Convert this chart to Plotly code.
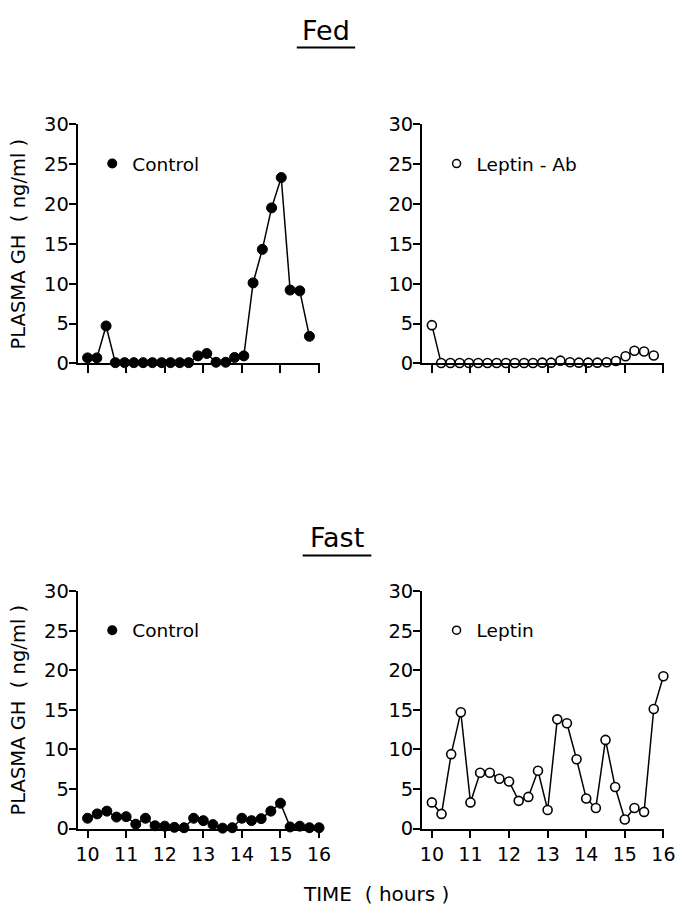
import plotly.graph_objects as go

# Sampling times (hours)
t_fed = [10.0, 10.24, 10.48, 10.72, 10.96, 11.2, 11.44, 11.68, 11.92, 12.15,
         12.39, 12.62, 12.86, 13.09, 13.33, 13.58, 13.81, 14.05, 14.29, 14.53,
         14.77, 15.02, 15.25, 15.5, 15.75]
t_fast = [10.0, 10.25, 10.5, 10.75, 11.0, 11.25, 11.5, 11.75, 12.0, 12.25,
          12.5, 12.75, 13.0, 13.25, 13.5, 13.75, 14.0, 14.25, 14.5, 14.75,
          15.0, 15.25, 15.5, 15.75, 16.0]

# Plasma GH (ng/ml)
gh_fed_control = [0.7, 0.7, 4.7, 0.1, 0.1, 0.1, 0.1, 0.1, 0.1, 0.1,
                  0.1, 0.1, 0.95, 1.25, 0.15, 0.15, 0.75, 0.95, 10.1, 14.3,
                  19.5, 23.3, 9.2, 9.1, 3.4]
gh_fed_leptin_ab = [4.8, 0.05, 0.05, 0.05, 0.05, 0.05, 0.05, 0.05, 0.05, 0.05,
                    0.05, 0.05, 0.1, 0.1, 0.35, 0.15, 0.1, 0.1, 0.1, 0.15,
                    0.3, 0.9, 1.6, 1.5, 1.0]
gh_fast_control = [1.3, 1.85, 2.2, 1.45, 1.5, 0.55, 1.3, 0.35, 0.3, 0.15,
                   0.1, 1.3, 1.0, 0.5, 0.05, 0.1, 1.3, 1.0, 1.25, 2.2,
                   3.2, 0.2, 0.3, 0.1, 0.1]
gh_fast_leptin = [3.3, 1.85, 9.4, 14.7, 3.3, 7.05, 7.05, 6.3, 5.95, 3.5,
                  4.0, 7.3, 2.35, 13.8, 13.3, 8.75, 3.8, 2.6, 11.2, 5.25,
                  1.15, 2.6, 2.1, 15.1, 19.25]

x_ticks = [10, 11, 12, 13, 14, 15, 16]
y_ticks = [0, 5, 10, 15, 20, 25, 30]
group_titles = ["Fed", "Fast"]
x_title = "TIME\u00a0\u00a0(\u00a0hours\u00a0)"
y_title = "PLASMA GH\u00a0\u00a0(\u00a0ng/ml\u00a0)"

W, H = 683, 920
FONT = "DejaVu Sans"


def fx(p):
    return p / W


def fy(p):
    return 1 - p / H


panels = [
    dict(label="Control", t=t_fed, v=gh_fed_control, filled=True,
         xpx=(77, 324), ypx=(116, 361.5), xlabels=False),
    dict(label="Leptin - Ab", t=t_fed, v=gh_fed_leptin_ab, filled=False,
         xpx=(428, 675), ypx=(116, 361.5), xlabels=False),
    dict(label="Control", t=t_fast, v=gh_fast_control, filled=True,
         xpx=(77, 324), ypx=(595, 838.5), xlabels=True),
    dict(label="Leptin", t=t_fast, v=gh_fast_leptin, filled=False,
         xpx=(428, 675), ypx=(595, 838.5), xlabels=True),
]

fig = go.Figure()
layout = dict(
    width=W, height=H,
    margin=dict(l=0, r=0, t=0, b=0),
    paper_bgcolor="white", plot_bgcolor="white",
    showlegend=True,
    font=dict(family=FONT, color="black", size=18),
)

annotations = []
shapes = []

for i, p in enumerate(panels):
    n = "" if i == 0 else str(i + 1)
    xa, ya = "x" + n, "y" + n
    marker = dict(size=10, color="black", line=dict(color="black", width=1)) if p["filled"] \
        else dict(size=9, color="white", line=dict(color="black", width=1.6))
    fig.add_trace(go.Scatter(
        x=p["t"], y=p["v"], mode="lines+markers",
        line=dict(color="black", width=1.5),
        marker=marker, cliponaxis=False,
        xaxis=xa, yaxis=ya, showlegend=False,
    ))
    # legend key for the panel
    leg = "legend" + n
    key_marker = dict(size=10, color="black") if p["filled"] \
        else dict(size=8, color="white", line=dict(color="black", width=1.5))
    fig.add_trace(go.Scatter(
        x=[None], y=[None], mode="markers", marker=key_marker,
        name=p["label"], legend=leg, xaxis=xa, yaxis=ya,
    ))
    y25 = p["ypx"][1] - (p["ypx"][1] - p["ypx"][0]) * 25 / 30
    layout[leg] = dict(
        x=fx(p["xpx"][0] + 15), y=fy(y25), xanchor="left", yanchor="middle",
        bgcolor="rgba(0,0,0,0)", borderwidth=0,
        font=dict(family=FONT, size=18.5, color="black"),
        itemwidth=30,
    )

    layout["xaxis" + n] = dict(
        domain=[fx(p["xpx"][0]), fx(p["xpx"][1])],
        range=[9.74, 16.02], anchor=ya,
        showline=True, linecolor="black", linewidth=1.5,
        ticks="outside", ticklen=8, tickwidth=1.5, tickcolor="black",
        tickvals=x_ticks, showticklabels=p["xlabels"],
        tickfont=dict(family=FONT, size=19, color="black"),
        showgrid=False, zeroline=False,
    )
    layout["yaxis" + n] = dict(
        domain=[fy(p["ypx"][1]), fy(p["ypx"][0])],
        range=[0, 30], anchor=xa,
        showline=True, linecolor="black", linewidth=1.5,
        ticks="outside", ticklen=7, tickwidth=1.5, tickcolor="black",
        tickvals=y_ticks, ticklabelstandoff=-4,
        tickfont=dict(family=FONT, size=19.5, color="black"),
        showgrid=False, zeroline=False,
    )
    if p["xpx"][0] < 300:
        annotations.append(dict(
            text=y_title, textangle=-90, xref="paper", yref="paper",
            x=fx(17), y=fy((p["ypx"][0] + p["ypx"][1]) / 2),
            xanchor="center", yanchor="middle", showarrow=False,
            font=dict(family=FONT, size=19.5, color="black"),
        ))

# group headings with underline
for title, cx, cy, uy, ux0, ux1 in [
    (group_titles[0], 330, 20, 37.5, 300.5, 360),
    (group_titles[1], 341.5, 540, 558.5, 306.5, 376.5),
]:
    annotations.append(dict(
        text=title, xref="paper", yref="paper", x=fx(cx), y=fy(cy),
        xanchor="center", yanchor="middle", showarrow=False,
        font=dict(family=FONT, size=27, color="black"),
    ))
    shapes.append(dict(
        type="line", xref="paper", yref="paper",
        x0=fx(ux0), x1=fx(ux1), y0=fy(uy), y1=fy(uy),
        line=dict(color="black", width=2),
    ))

annotations.append(dict(
    text=x_title, xref="paper", yref="paper", x=fx(381), y=fy(906),
    xanchor="center", yanchor="middle", showarrow=False,
    font=dict(family=FONT, size=20, color="black"),
))

layout["annotations"] = annotations
layout["shapes"] = shapes
fig.update_layout(**layout)
fig.write_html("out.html")
